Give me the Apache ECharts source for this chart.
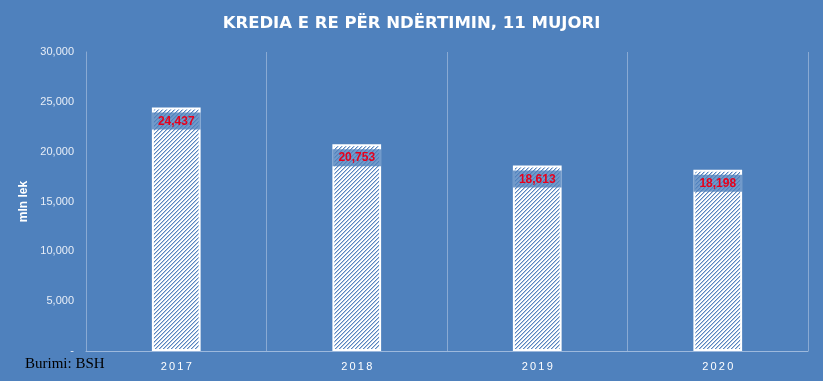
<!DOCTYPE html>
<html><head><meta charset="utf-8">
<script src="https://cdn.jsdelivr.net/npm/echarts@6/dist/echarts.min.js"></script>
<style>html,body{margin:0;padding:0;background:#4F81BD;}#c{width:823px;height:381px;}</style>
</head><body><div id="c"></div>
<script>
const categories = ['2017', '2018', '2019', '2020'];
const values = [24437, 20753, 18613, 18198];
const yTicks = [0, 5000, 10000, 15000, 20000, 25000, 30000];

function hatch() {
  const s = 4;
  const c = document.createElement('canvas');
  c.width = s; c.height = s;
  const g = c.getContext('2d');
  g.fillStyle = '#ffffff';
  g.fillRect(0, 0, s, s);
  for (let i = 0; i < s; i++) {
    g.fillStyle = '#5884BF';
    g.fillRect(i, s - 1 - i, 1, 1);
    g.fillStyle = '#B5CAE4';
    g.fillRect(i, (s - i) % s, 1, 1);
  }
  return c;
}
const fmt = v => v === 0 ? '-' : v.toLocaleString('en-US');

const chart = echarts.init(document.getElementById('c'), null, {renderer: 'canvas'});
chart.setOption({
  backgroundColor: '#4F81BD',
  animation: false,
  title: {
    text: 'KREDIA E RE PËR NDËRTIMIN, 11 MUJORI',
    left: 'center', top: 10,
    textStyle: {color: '#ffffff', fontSize: 16.5, fontWeight: 'bold', fontFamily: 'DejaVu Sans'}
  },
  graphic: [{
    type: 'text', left: 25, top: 357,
    style: {text: 'Burimi: BSH', fill: '#000000', font: '15px "Liberation Serif"'}
  }],
  grid: {left: 86, right: 15, top: 52, bottom: 30},
  xAxis: {
    type: 'category', data: categories,
    axisLine: {lineStyle: {color: '#9DB9DD', width: 1}},
    axisTick: {show: false},
    splitLine: {show: true, lineStyle: {color: '#8AAAD3', width: 1}},
    axisLabel: {color: '#ffffff', fontSize: 11, fontFamily: 'Liberation Sans', margin: 10,
      formatter: v => v.split('').join('\u2009')}
  },
  yAxis: {
    type: 'value', min: 0, max: 30000, interval: 5000,
    name: 'mln lek', nameLocation: 'middle', nameGap: 53, nameRotate: 90,
    nameTextStyle: {color: '#ffffff', fontSize: 12, fontWeight: 'bold', fontFamily: 'Liberation Sans'},
    axisLine: {show: true, lineStyle: {color: '#8AAAD3'}},
    axisTick: {show: false},
    splitLine: {show: false},
    axisLabel: {color: '#E8EEF7', fontSize: 11, fontFamily: 'Liberation Sans', margin: 12,
      formatter: v => yTicks.includes(v) ? fmt(v) : ''}
  },
  series: [{
    type: 'bar', data: values, barWidth: '27%',
    itemStyle: {color: {image: hatch(), repeat: 'repeat'}, borderColor: '#ffffff', borderWidth: 2},
    label: {
      show: true, position: 'insideTop', distance: 5,
      formatter: p => fmt(p.value),
      color: '#E8001C', fontWeight: 'bold', fontSize: 12, fontFamily: 'Liberation Sans',
      backgroundColor: 'rgba(79,129,189,0.8)', padding: [3, 6, 2, 6]
    }
  }]
});
</script></body></html>
